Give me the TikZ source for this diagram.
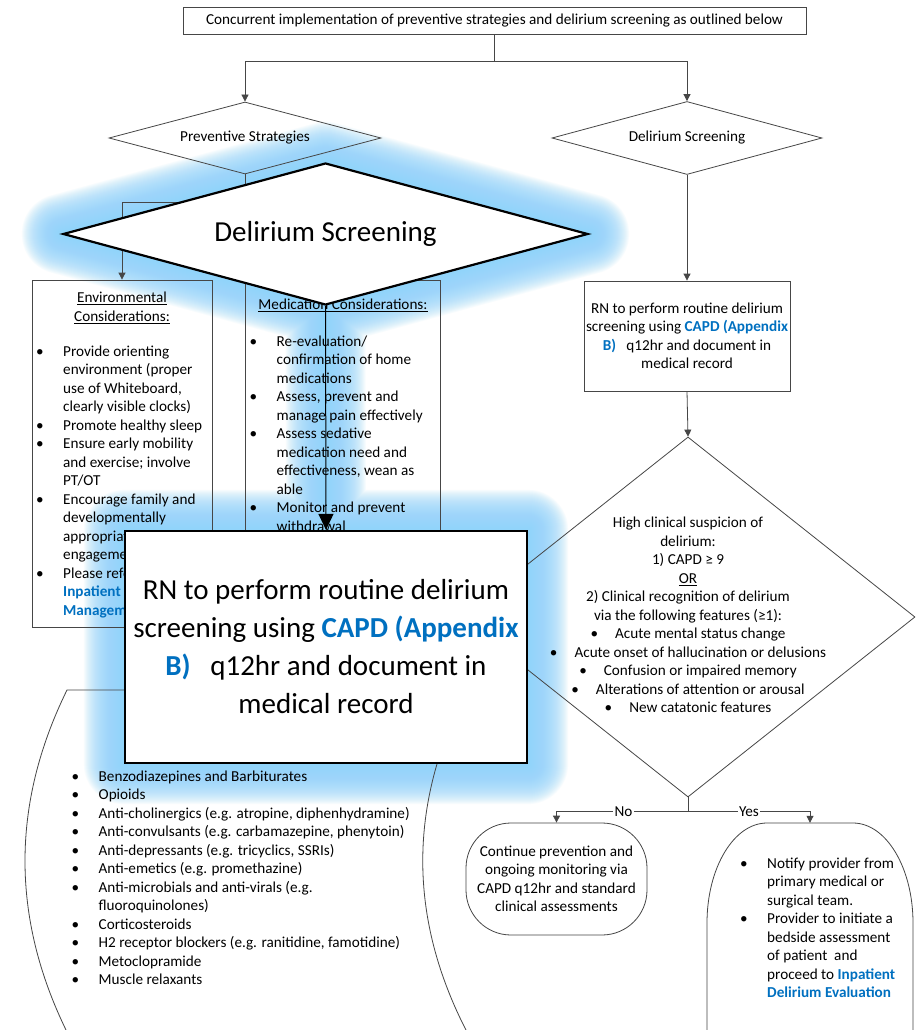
\documentclass[tikz,border=0pt]{standalone}
\usepackage{fontspec}
\setmainfont{Carlito}
\usetikzlibrary{shapes.geometric,arrows.meta,calc}
\pgfdeclarelayer{glowlayer}
\pgfsetlayers{glowlayer,main}
\definecolor{linkblue}{RGB}{0,112,192}
\definecolor{glowblue}{RGB}{145,212,250}
\definecolor{linegray}{RGB}{70,70,70}
\newcommand\smalltext{\fontsize{15.2}{18.5}\selectfont}
\newcommand\largetext{\fontsize{29}{38}\selectfont}
\newcommand\lnk[1]{\textcolor{linkblue}{\textbf{#1}}}
\newcommand\bul{\textbullet\hspace{17pt}}
\tikzset{
  base/.style={font=\smalltext, inner sep=0pt},
  plainbox/.style={draw=linegray, line width=0.8pt, base},
  flowdiamond/.style={draw=linegray, line width=0.8pt, diamond, base},
  conn/.style={draw=linegray, line width=0.8pt, -{Triangle[width=7pt,length=7pt]}},
  plainline/.style={draw=linegray, line width=0.8pt},
  callout/.style={draw=black, line width=2.2pt, fill=white, inner sep=0pt, font=\largetext},
  listnode/.style={base, anchor=base west, align=left},
  branchlabel/.style={base, fill=white, inner sep=1.5pt},
}
\begin{document}
\begin{tikzpicture}[x=1pt,y=-1pt]
\useasboundingbox (0,0) rectangle (918,1030);

% ---------- flowchart ----------
\node[plainbox, minimum width=623pt, minimum height=27pt] (top) at (494.5,20.5)
  {Concurrent implementation of preventive strategies and delirium screening as outlined below};

\node[flowdiamond, aspect=3.8, minimum width=272pt, minimum height=72pt] (prev) at (245,138) {Preventive Strategies};
\node[flowdiamond, aspect=3.7, minimum width=270pt, minimum height=73pt] (screen) at (687,138) {Delirium Screening};
\draw[conn] (top.south) -- ++(0,27) -| (prev.north);
\draw[conn] (top.south) ++(0,27) -| (screen.north);

% preventive branch
\node[plainbox, minimum width=180pt, minimum height=347pt] (env) at (122,453.5) {};
\node[plainbox, minimum width=195pt, minimum height=347pt] (med) at (342.5,453.5) {};
\draw[conn] (prev.south) -- ++(0,28) -| (env.north);
\draw[conn] (prev.south) ++(0,28) -| (med.north);

\node[base, align=center] (envtitle) at (122,308)
  {\underline{Environmental}\\\underline{Considerations:}};
\node[listnode] (envlist) at (36,356) {%
  \begin{tabular}[t]{@{}p{27pt}@{}l@{}}
  \textbullet & Provide orienting\\
   & environment (proper\\
   & use of Whiteboard,\\
   & clearly visible clocks)\\
  \textbullet & Promote healthy sleep\\
  \textbullet & Ensure early mobility\\
   & and exercise; involve\\
   & PT/OT\\
  \textbullet & Encourage family and\\
   & developmentally\\
   & appropriate\\
   & engagement\\
  \textbullet & Please refer to\\
   & \lnk{Inpatient Delirium}\\
   & \lnk{Management}
  \end{tabular}};

\node[base, align=center] (medtitle) at (343,305) {\underline{Medication Considerations:}};
\node[listnode] (medlist) at (249.5,346) {%
  \begin{tabular}[t]{@{}p{27pt}@{}l@{}}
  \textbullet & Re-evaluation/\\
   & confirmation of home\\
   & medications\\
  \textbullet & Assess, prevent and\\
   & manage pain effectively\\
  \textbullet & Assess sedative\\
   & medication need and\\
   & effectiveness, wean as\\
   & able\\
  \textbullet & Monitor and prevent\\
   & withdrawal
  \end{tabular}};

% medication list (stored data shape)
\draw[plainline] (67,690) -- (467,690) .. controls (408,804) and (408,918) .. (467,1032)
  -- (67,1032) .. controls (11,918) and (11,804) .. (67,690) -- cycle;
\node[listnode] (drugs) at (71.5,781) {%
  \begin{tabular}[t]{@{}p{27pt}@{}l@{}}
  \textbullet & Benzodiazepines and Barbiturates\\
  \textbullet & Opioids\\
  \textbullet & Anti-cholinergics (e.g. atropine, diphenhydramine)\\
  \textbullet & Anti-convulsants (e.g. carbamazepine, phenytoin)\\
  \textbullet & Anti-depressants (e.g. tricyclics, SSRIs)\\
  \textbullet & Anti-emetics (e.g. promethazine)\\
  \textbullet & Anti-microbials and anti-virals (e.g.\\
   & fluoroquinolones)\\
  \textbullet & Corticosteroids\\
  \textbullet & H2 receptor blockers (e.g. ranitidine, famotidine)\\
  \textbullet & Metoclopramide\\
  \textbullet & Muscle relaxants
  \end{tabular}};

% screening branch
\node[plainbox, minimum width=206pt, minimum height=110pt, align=center] (rn) at (687,336)
  {RN to perform routine delirium\\screening using \lnk{CAPD (Appendix}\\
   \lnk{B)}\hspace{0.45em} q12hr and document in\\medical record};
\draw[conn] (screen.south) -- (rn.north);

\node[flowdiamond, minimum width=454pt, minimum height=360pt] (dec) at (688,617) {};
\node[base, align=center] (dectext) at (688,615)
  {High clinical suspicion of\\delirium:\\1) CAPD ≥ 9\\\underline{OR}\\
   2) Clinical recognition of delirium\\via the following features (≥1):\\
   \bul Acute mental status change\\
   \bul Acute onset of hallucination or delusions\\
   \bul Confusion or impaired memory\\
   \bul Alterations of attention or arousal\\
   \bul New catatonic features};
\draw[conn] (rn.south) -- (dec.north);

\node[draw=linegray, line width=0.8pt, rounded corners=45pt, minimum width=181pt,
      minimum height=112pt, align=center, base] (cont) at (556.5,879)
  {Continue prevention and\\ongoing monitoring via\\CAPD q12hr and standard\\clinical assessments};

\node[base, minimum width=206pt, minimum height=320pt] (yesbox) at (810,983) {};
\draw[plainline] (707,1143) -- (707,923) arc[start angle=180, end angle=270, x radius=60, y radius=100]
  -- (853,823) arc[start angle=270, end angle=360, x radius=60, y radius=100] -- (913,1143);
\node[listnode] (yeslist) at (740,868) {%
  \begin{tabular}[t]{@{}p{27pt}@{}l@{}}
  \textbullet & Notify provider from\\
   & primary medical or\\
   & surgical team.\\
  \textbullet & Provider to initiate a\\
   & bedside assessment\\
   & of patient\ \ and\\
   & proceed to \lnk{Inpatient}\\
   & \lnk{Delirium Evaluation}
  \end{tabular}};

\draw[plainline] (dec.south) -- ++(0,14) coordinate (split);
\draw[conn] (split) -| node[branchlabel, pos=0.245] (nolabel) {No} (cont.north);
\draw[conn] (split) -| node[branchlabel, pos=0.25] (yeslabel) {Yes} (yesbox.north);

% ---------- enlarged callouts ----------
\node[callout, diamond, aspect=3.7, minimum width=525pt, minimum height=142pt] (bigdia) at (325.5,234) {Delirium Screening};
\node[callout, minimum width=402pt, minimum height=232pt, align=center] (bigbox) at (326,647)
  {RN to perform routine delirium\\screening using \lnk{CAPD (Appendix}\\
   \lnk{B)}\hspace{0.45em} q12hr and document in\\medical record};
\draw[line width=1pt, -{Triangle[width=15pt,length=16pt]}] (bigdia.south) -- (bigbox.north);

% soft glow behind the callouts
\begin{pgfonlayer}{glowlayer}
  \fill[white] (0,0) rectangle (918,1030);
  \foreach \w in {2,4,...,80} {
    \draw[glowblue, line width=\w pt, draw opacity=0.065, line join=round, line cap=round]
      (bigdia.west) -- (bigdia.north) -- (bigdia.east) -- (bigdia.south) -- cycle
      (bigdia.south) -- (bigbox.north)
      (bigbox.north west) rectangle (bigbox.south east);
  }
\end{pgfonlayer}
\end{tikzpicture}
\end{document}
